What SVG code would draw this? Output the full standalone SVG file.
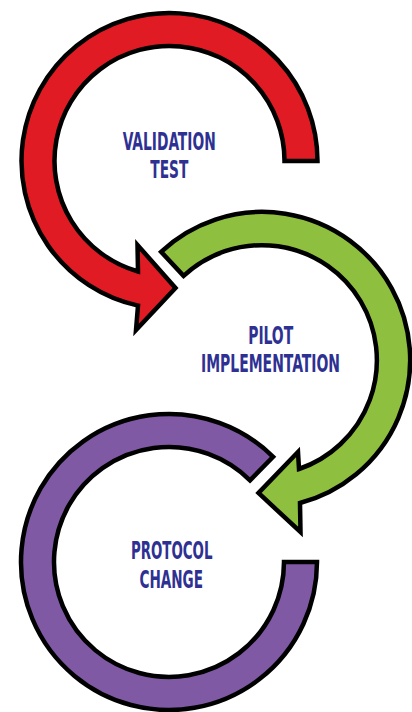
<svg xmlns="http://www.w3.org/2000/svg" width="412" height="712" viewBox="0 0 412 712">
<style>
.arc{stroke:#000;stroke-width:4.5;stroke-linejoin:miter;stroke-miterlimit:10}
.red{fill:#E01B24}
.green{fill:#8FBF3F}
.purple{fill:#7F59A4}
.lbl{font-family:"Liberation Sans Narrow","DejaVu Sans Condensed","Liberation Sans",sans-serif;font-weight:bold;font-size:24px;fill:#2E3192;text-anchor:middle}
</style>
<rect width="412" height="712" fill="#fff"/>
<g id="connectors">
<path id="arrow-validation" class="arc red" d="M284.5 161 L317.5 161 A148 148 0 1 0 138 305.6 L136 330 L175.5 288 L137.5 245 L138 271.5 A115 115 0 1 1 284.5 161 Z"/>
<path id="arrow-pilot" class="arc green" d="M183.6 275.9 L161.1 251.8 A148 148 0 1 1 300 503 L300.5 532 L258.5 493 L298 452 L299 469 A115 115 0 1 0 183.6 275.9 Z"/>
<path id="arrow-protocol" class="arc purple" d="M250 480.3 L273.1 456.8 A148 148 0 1 0 317 562 L284 562 A115 115 0 1 1 250 480.3 Z"/>
</g>
<g id="node-validation">
<text class="lbl" x="169.2" y="150" textLength="93" lengthAdjust="spacingAndGlyphs">VALIDATION</text>
<text class="lbl" x="169.3" y="177.7" textLength="38" lengthAdjust="spacingAndGlyphs">TEST</text>
</g>
<g id="node-pilot">
<text class="lbl" x="270.7" y="344" textLength="45" lengthAdjust="spacingAndGlyphs">PILOT</text>
<text class="lbl" x="270.5" y="371.7" textLength="139" lengthAdjust="spacingAndGlyphs">IMPLEMENTATION</text>
</g>
<g id="node-protocol">
<text class="lbl" x="171.7" y="559.3" textLength="81.5" lengthAdjust="spacingAndGlyphs">PROTOCOL</text>
<text class="lbl" x="171.2" y="587.7" textLength="63.5" lengthAdjust="spacingAndGlyphs">CHANGE</text>
</g>
</svg>
